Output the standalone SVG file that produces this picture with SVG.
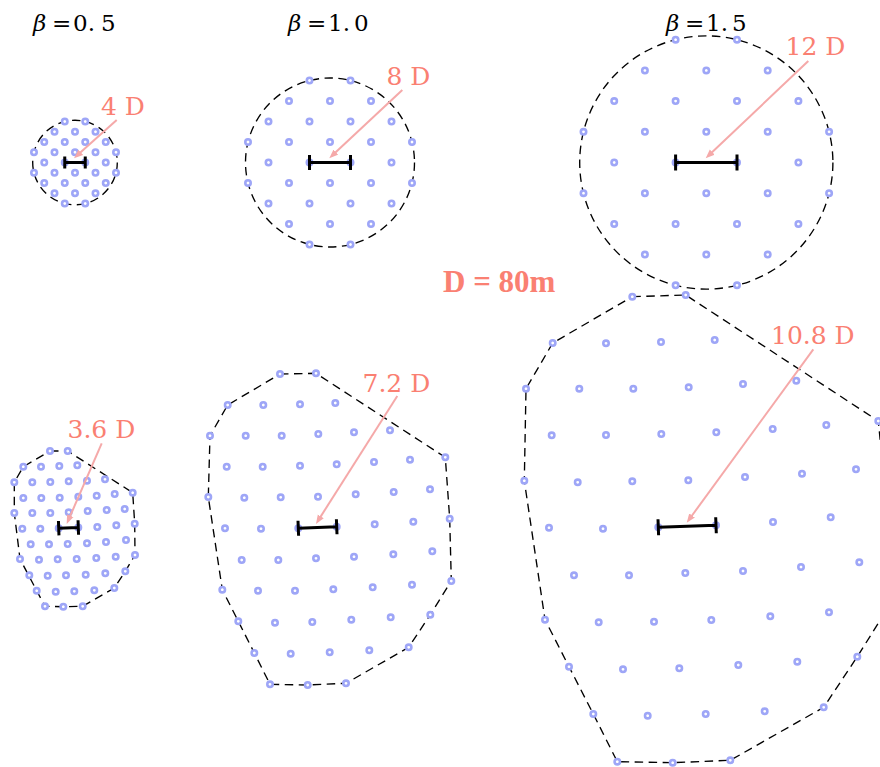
<svg xmlns="http://www.w3.org/2000/svg" xmlns:xlink="http://www.w3.org/1999/xlink" width="880" height="767" viewBox="0 0 880 767">
<style>
.bd{fill:none;stroke:#000;stroke-width:1.35;stroke-dasharray:8.5 5.5}
.bar{fill:none;stroke:#000;stroke-width:3}
.arr{stroke:#f5a9a9;stroke-width:2;fill:none;marker-end:url(#ah)}
.lbl{font-family:"DejaVu Serif",serif;font-size:25px;fill:#fa8072}
.ttl{font-family:"DejaVu Serif",serif;font-size:23px;fill:#000}
.big{font-family:"Liberation Serif",serif;font-size:31px;font-weight:bold;fill:#fa8072}
</style>
<defs>
<circle id="dt" r="2.7" fill="#fff" stroke="#9ea6f7" stroke-width="2.6"/>
<marker id="ah" markerUnits="userSpaceOnUse" markerWidth="10" markerHeight="8" refX="5" refY="4" orient="auto"><path d="M0,0.5 L9,4 L0,7.5 Z" fill="#f5a9a9"/></marker>
</defs>
<rect width="880" height="767" fill="#fff"/>

<g id="titles">
<text class="ttl" y="31"><tspan x="33" font-style="italic">β</tspan><tspan x="52">=</tspan><tspan x="73">0.</tspan><tspan x="101">5</tspan></text>
<text class="ttl" y="31"><tspan x="288" font-style="italic">β</tspan><tspan x="307">=</tspan><tspan x="328">1.</tspan><tspan x="354">0</tspan></text>
<text class="ttl" y="31"><tspan x="666" font-style="italic">β</tspan><tspan x="685">=</tspan><tspan x="706">1.</tspan><tspan x="732">5</tspan></text>
</g>

<g id="scale"><text class="big" x="443" y="292">D = 80m</text></g>

<g id="farm-b05-circle">
<circle class="bd" cx="75" cy="162.5" r="42.3"/>
<use href="#dt" x="64.75" y="121.5"/><use href="#dt" x="85.25" y="121.5"/>
<use href="#dt" x="54.5" y="131.75"/><use href="#dt" x="75" y="131.75"/><use href="#dt" x="95.5" y="131.75"/>
<use href="#dt" x="44.25" y="142"/><use href="#dt" x="64.75" y="142"/><use href="#dt" x="85.25" y="142"/><use href="#dt" x="105.75" y="142"/>
<use href="#dt" x="34" y="152.25"/><use href="#dt" x="54.5" y="152.25"/><use href="#dt" x="75" y="152.25"/><use href="#dt" x="95.5" y="152.25"/><use href="#dt" x="116" y="152.25"/>
<use href="#dt" x="44.25" y="162.5"/><use href="#dt" x="64.75" y="162.5"/><use href="#dt" x="85.25" y="162.5"/><use href="#dt" x="105.75" y="162.5"/>
<use href="#dt" x="34" y="172.75"/><use href="#dt" x="54.5" y="172.75"/><use href="#dt" x="75" y="172.75"/><use href="#dt" x="95.5" y="172.75"/><use href="#dt" x="116" y="172.75"/>
<use href="#dt" x="44.25" y="183"/><use href="#dt" x="64.75" y="183"/><use href="#dt" x="85.25" y="183"/><use href="#dt" x="105.75" y="183"/>
<use href="#dt" x="54.5" y="193.25"/><use href="#dt" x="75" y="193.25"/><use href="#dt" x="95.5" y="193.25"/>
<use href="#dt" x="64.75" y="203.5"/><use href="#dt" x="85.25" y="203.5"/>
<path class="bar" d="M64.75,162.5 H85.25 M64.75,156.5 V168.5 M85.25,156.5 V168.5"/>
</g>

<g id="farm-b10-circle">
<circle class="bd" cx="330" cy="162.5" r="84.5"/>
<use href="#dt" x="309.5" y="80.5"/><use href="#dt" x="350.5" y="80.5"/>
<use href="#dt" x="289" y="101"/><use href="#dt" x="330" y="101"/><use href="#dt" x="371" y="101"/>
<use href="#dt" x="268.5" y="121.5"/><use href="#dt" x="309.5" y="121.5"/><use href="#dt" x="350.5" y="121.5"/><use href="#dt" x="391.5" y="121.5"/>
<use href="#dt" x="248" y="142"/><use href="#dt" x="289" y="142"/><use href="#dt" x="330" y="142"/><use href="#dt" x="371" y="142"/><use href="#dt" x="412" y="142"/>
<use href="#dt" x="268.5" y="162.5"/><use href="#dt" x="309.5" y="162.5"/><use href="#dt" x="350.5" y="162.5"/><use href="#dt" x="391.5" y="162.5"/>
<use href="#dt" x="248" y="183"/><use href="#dt" x="289" y="183"/><use href="#dt" x="330" y="183"/><use href="#dt" x="371" y="183"/><use href="#dt" x="412" y="183"/>
<use href="#dt" x="268.5" y="203.5"/><use href="#dt" x="309.5" y="203.5"/><use href="#dt" x="350.5" y="203.5"/><use href="#dt" x="391.5" y="203.5"/>
<use href="#dt" x="289" y="224"/><use href="#dt" x="330" y="224"/><use href="#dt" x="371" y="224"/>
<use href="#dt" x="309.5" y="244.5"/><use href="#dt" x="350.5" y="244.5"/>
<path class="bar" d="M309.5,162.5 H350.5 M309.5,155 V170 M350.5,155 V170"/>
</g>

<g id="farm-b15-circle">
<circle class="bd" cx="706.3" cy="162.5" r="126.6"/>
<use href="#dt" x="675.6" y="39.7"/><use href="#dt" x="737" y="39.7"/>
<use href="#dt" x="644.9" y="70.4"/><use href="#dt" x="706.3" y="70.4"/><use href="#dt" x="767.7" y="70.4"/>
<use href="#dt" x="614.2" y="101.1"/><use href="#dt" x="675.6" y="101.1"/><use href="#dt" x="737" y="101.1"/><use href="#dt" x="798.4" y="101.1"/>
<use href="#dt" x="583.5" y="131.8"/><use href="#dt" x="644.9" y="131.8"/><use href="#dt" x="706.3" y="131.8"/><use href="#dt" x="767.7" y="131.8"/><use href="#dt" x="829.1" y="131.8"/>
<use href="#dt" x="614.2" y="162.5"/><use href="#dt" x="675.6" y="162.5"/><use href="#dt" x="737" y="162.5"/><use href="#dt" x="798.4" y="162.5"/>
<use href="#dt" x="583.5" y="193.2"/><use href="#dt" x="644.9" y="193.2"/><use href="#dt" x="706.3" y="193.2"/><use href="#dt" x="767.7" y="193.2"/><use href="#dt" x="829.1" y="193.2"/>
<use href="#dt" x="614.2" y="223.9"/><use href="#dt" x="675.6" y="223.9"/><use href="#dt" x="737" y="223.9"/><use href="#dt" x="798.4" y="223.9"/>
<use href="#dt" x="644.9" y="254.6"/><use href="#dt" x="706.3" y="254.6"/><use href="#dt" x="767.7" y="254.6"/>
<use href="#dt" x="675.6" y="285.3"/><use href="#dt" x="737" y="285.3"/>
<path class="bar" d="M675.6,162.5 H737 M675.6,154.5 V170.5 M737,154.5 V170.5"/>
</g>

<g id="farm-b05-hull">
<path class="bd" d="M50,451 L67.7,451 L132.7,492.7 L134.7,523.7 L135,555 L125.3,571.3 L114.3,588 L82.7,606.3 L63.3,606.7 L45,606.3 L36.7,590.7 L20,559 L14.3,513 L14.3,482.3 L23.3,466.7 Z"/>
<use href="#dt" x="50" y="451"/><use href="#dt" x="67.7" y="451"/>
<use href="#dt" x="23.3" y="466.7"/><use href="#dt" x="41" y="466.7"/><use href="#dt" x="59.3" y="466"/><use href="#dt" x="77.3" y="465.3"/>
<use href="#dt" x="14.3" y="482.3"/><use href="#dt" x="32.3" y="482.3"/><use href="#dt" x="50.3" y="482"/><use href="#dt" x="68.7" y="481.3"/><use href="#dt" x="87" y="480.7"/><use href="#dt" x="105" y="479.3"/>
<use href="#dt" x="23.3" y="498"/><use href="#dt" x="41.3" y="498"/><use href="#dt" x="59.7" y="497.7"/><use href="#dt" x="78.3" y="496.7"/><use href="#dt" x="96.7" y="495.7"/><use href="#dt" x="114.7" y="494"/><use href="#dt" x="132.7" y="492.7"/>
<use href="#dt" x="14.3" y="513"/><use href="#dt" x="32.3" y="513"/><use href="#dt" x="50.3" y="513"/><use href="#dt" x="68.7" y="512.3"/><use href="#dt" x="87.7" y="511"/><use href="#dt" x="106.7" y="510"/><use href="#dt" x="124.7" y="509"/>
<use href="#dt" x="22.3" y="528.7"/><use href="#dt" x="40.3" y="528.7"/><use href="#dt" x="58.7" y="528.2"/><use href="#dt" x="78.3" y="527.5"/><use href="#dt" x="97.3" y="527"/><use href="#dt" x="116.3" y="525.3"/><use href="#dt" x="134.7" y="523.7"/>
<use href="#dt" x="30.7" y="544.3"/><use href="#dt" x="49" y="544.3"/><use href="#dt" x="67.7" y="544"/><use href="#dt" x="87" y="543.3"/><use href="#dt" x="106" y="542"/><use href="#dt" x="126" y="540"/>
<use href="#dt" x="20" y="559"/><use href="#dt" x="39" y="559.7"/><use href="#dt" x="57.7" y="559.3"/><use href="#dt" x="76.7" y="559"/><use href="#dt" x="96.3" y="558"/><use href="#dt" x="115.7" y="556.7"/><use href="#dt" x="135" y="555"/>
<use href="#dt" x="29.3" y="575.3"/><use href="#dt" x="47.7" y="575.7"/><use href="#dt" x="66" y="575.3"/><use href="#dt" x="85.7" y="574.7"/><use href="#dt" x="105.3" y="573.3"/><use href="#dt" x="125.3" y="571.3"/>
<use href="#dt" x="36.7" y="590.7"/><use href="#dt" x="55.7" y="591.7"/><use href="#dt" x="74.3" y="591.3"/><use href="#dt" x="94.3" y="590.3"/><use href="#dt" x="114.3" y="588"/>
<use href="#dt" x="45" y="606.3"/><use href="#dt" x="63.3" y="606.7"/><use href="#dt" x="82.7" y="606.3"/>
<path class="bar" d="M58.7,528.2 L78.3,527.5 M58.45,521 L58.95,535.4 M78.05,520.3 L78.55,534.7"/>
</g>

<g id="farm-b10-hull">
<path class="bd" d="M280,374 L316,373.3 L445.3,457.3 L449.7,518.7 L451.3,581 L430.3,614.7 L408.7,647.3 L346,683.3 L307.7,685 L270,684.3 L254.3,653 L238.3,621.3 L222.3,589.7 L208.3,497 L210,435.7 L227.7,405 Z"/>
<use href="#dt" x="280" y="374"/><use href="#dt" x="316" y="373.3"/>
<use href="#dt" x="227.7" y="405"/><use href="#dt" x="263.3" y="405"/><use href="#dt" x="300" y="404.3"/><use href="#dt" x="335.3" y="403"/>
<use href="#dt" x="210" y="435.7"/><use href="#dt" x="245.7" y="435.7"/><use href="#dt" x="281.7" y="435.7"/><use href="#dt" x="318.3" y="434"/><use href="#dt" x="354" y="432.3"/><use href="#dt" x="390" y="430.3"/>
<use href="#dt" x="226.7" y="466.7"/><use href="#dt" x="262.7" y="466.7"/><use href="#dt" x="300" y="465.7"/><use href="#dt" x="336.7" y="464.3"/><use href="#dt" x="374" y="462"/><use href="#dt" x="410" y="459.7"/><use href="#dt" x="445.3" y="457.3"/>
<use href="#dt" x="208.3" y="497"/><use href="#dt" x="244.3" y="497.7"/><use href="#dt" x="280.7" y="497.3"/><use href="#dt" x="318" y="496.7"/><use href="#dt" x="355.7" y="494.3"/><use href="#dt" x="393.7" y="492"/><use href="#dt" x="430" y="489.3"/>
<use href="#dt" x="225" y="528.3"/><use href="#dt" x="261" y="528.7"/><use href="#dt" x="298.3" y="528.3"/><use href="#dt" x="336.7" y="526.7"/><use href="#dt" x="374.7" y="524.3"/><use href="#dt" x="413.3" y="521.7"/><use href="#dt" x="449.7" y="518.7"/>
<use href="#dt" x="241.7" y="560"/><use href="#dt" x="278.3" y="560"/><use href="#dt" x="316" y="558.3"/><use href="#dt" x="354" y="556.7"/><use href="#dt" x="393.3" y="554.3"/><use href="#dt" x="432.3" y="551.3"/>
<use href="#dt" x="222.3" y="589.7"/><use href="#dt" x="258" y="590.7"/><use href="#dt" x="295" y="590.7"/><use href="#dt" x="333.3" y="589.3"/><use href="#dt" x="372.7" y="587.3"/><use href="#dt" x="412" y="584.7"/><use href="#dt" x="451.3" y="581"/>
<use href="#dt" x="238.3" y="621.3"/><use href="#dt" x="275" y="622.7"/><use href="#dt" x="312.3" y="622"/><use href="#dt" x="351.3" y="619.7"/><use href="#dt" x="390.7" y="617.3"/><use href="#dt" x="430.3" y="614.7"/>
<use href="#dt" x="254.3" y="653"/><use href="#dt" x="290.7" y="653.7"/><use href="#dt" x="329.7" y="652.3"/><use href="#dt" x="369.3" y="650.3"/><use href="#dt" x="408.7" y="647.3"/>
<use href="#dt" x="270" y="684.3"/><use href="#dt" x="307.7" y="685"/><use href="#dt" x="346" y="683.3"/>
<path class="bar" d="M298.3,528.3 L336.7,526.7 M298,520.8 L298.6,535.8 M336.4,519.2 L337,534.2"/>
</g>

<g id="farm-b15-hull">
<path class="bd" d="M632.3,296.7 L685.7,295 L878.3,421 L887.5,513.5 L888.3,607.3 L857.3,656.7 L823.7,707.3 L730.3,760.3 L672.7,762.7 L617.3,761.7 L593.3,714 L569,666.7 L545,619.7 L524.3,480.7 L526,388.7 L552.7,343 Z"/>
<use href="#dt" x="632.3" y="296.7"/><use href="#dt" x="685.7" y="295"/>
<use href="#dt" x="552.7" y="343"/><use href="#dt" x="606" y="343.3"/><use href="#dt" x="661" y="342"/><use href="#dt" x="714.7" y="340"/>
<use href="#dt" x="526" y="388.7"/><use href="#dt" x="579.3" y="388.7"/><use href="#dt" x="633.3" y="388.7"/><use href="#dt" x="688.7" y="387.3"/><use href="#dt" x="743" y="384"/><use href="#dt" x="796.3" y="380.7"/>
<use href="#dt" x="551.7" y="435.3"/><use href="#dt" x="606" y="435"/><use href="#dt" x="661.3" y="434"/><use href="#dt" x="716.3" y="432.3"/><use href="#dt" x="772.7" y="429"/><use href="#dt" x="826.3" y="425"/><use href="#dt" x="878.3" y="421"/>
<use href="#dt" x="524.3" y="480.7"/><use href="#dt" x="577.7" y="482.3"/><use href="#dt" x="632.3" y="481.3"/><use href="#dt" x="688.3" y="480.3"/><use href="#dt" x="745" y="477"/><use href="#dt" x="802" y="473.7"/><use href="#dt" x="856" y="469.3"/>
<use href="#dt" x="549" y="527.7"/><use href="#dt" x="603" y="528.7"/><use href="#dt" x="658.3" y="527.3"/><use href="#dt" x="716" y="525.3"/><use href="#dt" x="773" y="522"/><use href="#dt" x="830.7" y="517.3"/>
<use href="#dt" x="574" y="575.3"/><use href="#dt" x="629" y="575.3"/><use href="#dt" x="685.3" y="573"/><use href="#dt" x="743" y="571"/><use href="#dt" x="801" y="567"/><use href="#dt" x="859.3" y="562.3"/>
<use href="#dt" x="545" y="619.7"/><use href="#dt" x="598.7" y="622.3"/><use href="#dt" x="654" y="621.7"/><use href="#dt" x="711.3" y="620"/><use href="#dt" x="770.3" y="616.3"/><use href="#dt" x="829" y="612.3"/>
<use href="#dt" x="569" y="666.7"/><use href="#dt" x="623" y="669.3"/><use href="#dt" x="679.3" y="668.3"/><use href="#dt" x="738.3" y="665"/><use href="#dt" x="797.3" y="661.7"/><use href="#dt" x="857.3" y="656.7"/>
<use href="#dt" x="593.3" y="714"/><use href="#dt" x="647.7" y="715.7"/><use href="#dt" x="705.7" y="714"/><use href="#dt" x="764.7" y="711.3"/><use href="#dt" x="823.7" y="707.3"/>
<use href="#dt" x="617.3" y="761.7"/><use href="#dt" x="672.7" y="762.7"/><use href="#dt" x="730.3" y="760.3"/>
<path class="bar" d="M658.3,527.3 L716,525.3 M658,519.3 L658.6,535.3 M715.7,517.3 L716.3,533.3"/>
</g>

<g id="labels">
<text class="lbl" x="101" y="115">4 D</text>
<text class="lbl" x="386.5" y="84.5">8 D</text>
<text class="lbl" x="785.5" y="55">12 D</text>
<text class="lbl" x="67.5" y="437.5">3.6 D</text>
<text class="lbl" x="362.5" y="392">7.2 D</text>
<text class="lbl" x="771" y="343.5">10.8 D</text>
</g>

<g id="connectors">
<line class="arr" x1="116.7" y1="120" x2="77" y2="155.6"/>
<line class="arr" x1="402.3" y1="90" x2="332.2" y2="155.6"/>
<line class="arr" x1="808.3" y1="61" x2="708.6" y2="155.55"/>
<line class="arr" x1="101.7" y1="443.3" x2="68.3" y2="520.3"/>
<line class="arr" x1="397.3" y1="396" x2="318.1" y2="520.6"/>
<line class="arr" x1="813.3" y1="349.3" x2="689.1" y2="519.5"/>
</g>
</svg>
